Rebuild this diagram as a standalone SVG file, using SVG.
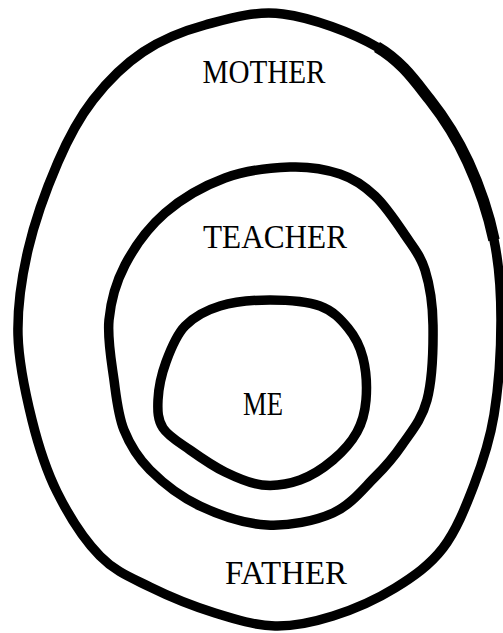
<svg xmlns="http://www.w3.org/2000/svg" width="503" height="633" viewBox="0 0 503 633">
<style>
.ring{fill:none;stroke:#000;stroke-width:9.5;stroke-linejoin:round;stroke-linecap:round}
.thick{fill:none;stroke:#000;stroke-width:11.5;stroke-linecap:butt}
.lbl{font-family:"Liberation Serif","Times New Roman",serif;font-size:33px;fill:#000;text-anchor:middle}
</style>
<rect width="503" height="633" fill="#fff"/>
<g id="mother">
<path class="ring" d="M283,14 C311.7,17.7 352.5,32.7 377,47 S414.8,80.8 430,100 S457.3,138.7 468,162 S488.5,213.7 494,240 S501,290.8 501,320 S498.5,387.5 494,415 S482.5,462.8 474,485 S456.2,530.8 443,548 S413.3,576.7 395,588 S353,609.7 333,616 S294.7,626.5 275,626 S235.8,619.5 215,613 S169.2,596.5 150,587 S115.5,571.8 100,556 S68.3,514.7 57,492 S38.5,446.2 32,420 S18.7,363.3 18,335 S21.3,278.8 28,250 S47.2,187 58,162 S78.8,118.3 93,100 S124.3,64.5 143,52 S181.7,31.3 205,25 S254.3,10.3 283,14 Z"/>
<path class="thick" d="M377,47 C401.5,61.3 414.8,80.8 430,100 S457.3,138.7 468,162 S488.5,213.7 494,240"/>
<text class="lbl" x="264" y="83" textLength="123" lengthAdjust="spacingAndGlyphs">MOTHER</text>
</g>
<g id="father">
<text class="lbl" x="286" y="584" textLength="122" lengthAdjust="spacingAndGlyphs">FATHER</text>
</g>
<g id="teacher">
<path class="ring" d="M290,167 C309.2,166.3 325.8,169.2 340,174 S364.2,185.8 375,196 S396.7,222.7 405,235 S420.3,255 425,270 S432.7,303.3 433,325 S432.2,380 427,400 S410.7,432.2 402,445 S386.5,465.7 375,477 S351,505 333,513 S289.2,526.2 267,525 S219.5,515.2 200,506 S162.7,482.7 150,470 S130,445 124,430 S116.5,398.3 114,380 S107.2,339.2 109,320 S115.7,282.8 125,265 S148.3,227.5 165,213 S204.2,185.7 225,178 S270.8,167.7 290,167 Z"/>
<text class="lbl" x="275" y="248" textLength="144" lengthAdjust="spacingAndGlyphs">TEACHER</text>
</g>
<g id="me">
<path class="ring" d="M270,300 C286.7,300 307,301.3 320,306 S340.8,319.3 348,328 S360,346 363,358 S367,387.7 366,400 S362.5,422 357,432 S342.5,452 333,460 S311.8,475.8 300,480 S274.5,486.3 262,485 S237,477.8 225,472 S200.3,457.3 190,450 S168.3,436.3 163,428 S157.5,411 158,400 S161.5,374.3 166,362 S176,335.3 185,326 S205.8,310.3 220,306 S253.3,300 270,300 Z"/>
<text class="lbl" x="263" y="415" textLength="40" lengthAdjust="spacingAndGlyphs">ME</text>
</g>
</svg>
